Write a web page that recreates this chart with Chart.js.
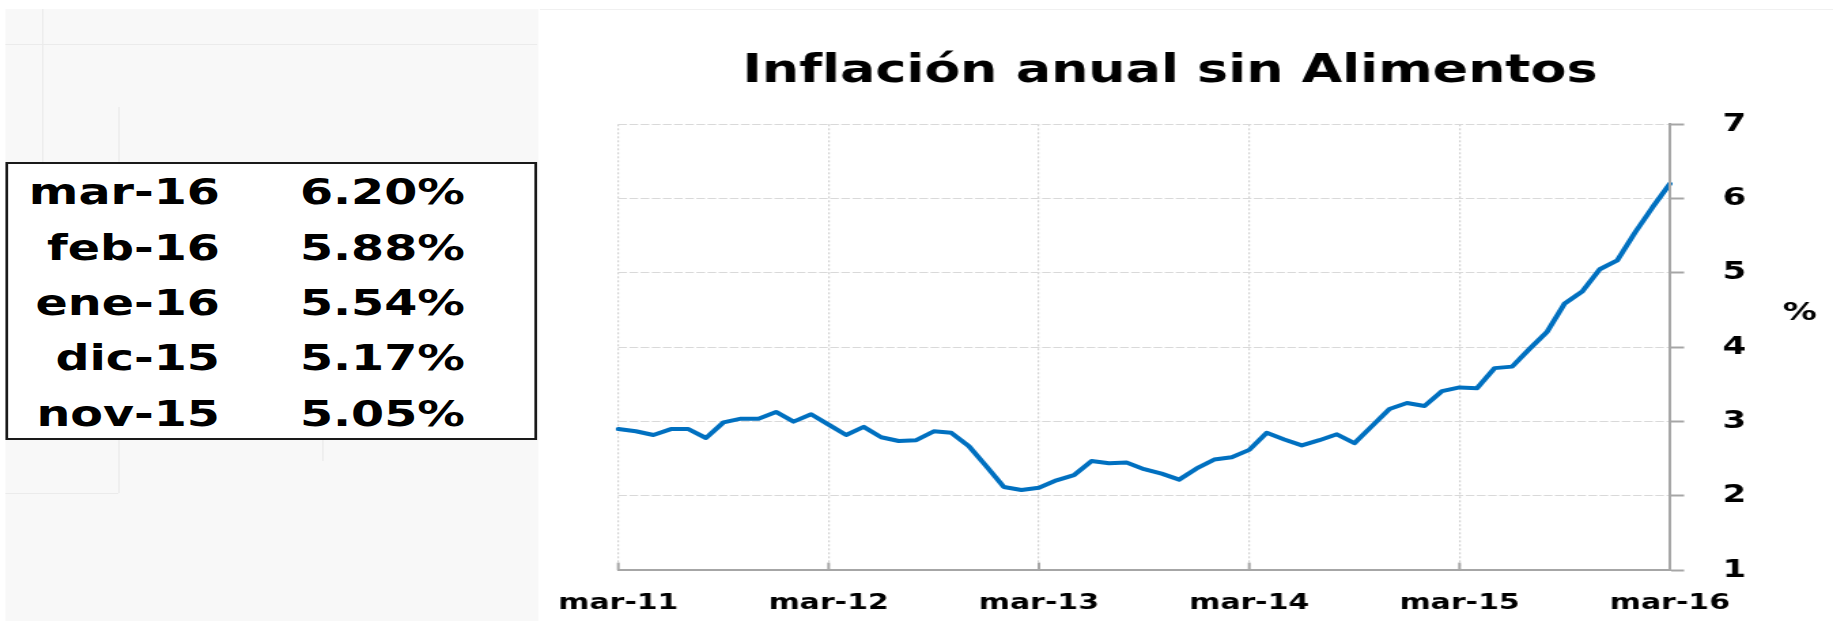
<!DOCTYPE html>
<html lang="es">
<head>
<meta charset="utf-8">
<title>Inflación anual sin Alimentos</title>
<script src="https://cdn.jsdelivr.net/npm/chart.js@4.4.1/dist/chart.umd.min.js"></script>
<style>
  html, body { margin: 0; padding: 0; background: #fff; overflow: hidden; }
  /* the original picture is stretched sideways, so the whole stage is too */
  #stage { position: absolute; left: 0; top: 0; width: 1348px; height: 621px;
           transform: scaleX(1.3598); transform-origin: 0 0;
           font-family: "DejaVu Sans", sans-serif; }
  #panel { position: absolute; left: 4.4px; top: 9px; width: 391.2px; height: 612px; background: #f8f8f8; }
  .faint { position: absolute; background: #ebebeb; }
  #topline { position: absolute; left: 397px; top: 9px; width: 951px; height: 1px; background: #f0f0f0; }
  #box { position: absolute; left: 4.4px; top: 162px; width: 390.5px; height: 278px; box-sizing: border-box;
         border: 2px solid #1a1a1a; background: #fff; padding-top: 1.3px; }
  .row { display: grid; grid-template-columns: 155.4px 180.2px; height: 55.4px; line-height: 55.4px;
         font-weight: bold; font-size: 35px; color: #000; }
  .row span { text-align: right; white-space: nowrap; }
  canvas { position: absolute; left: 0; top: 0; }
</style>
</head>
<body>
<div id="stage">
  <div id="panel"></div>
  <div class="faint" style="left:30.6px;top:9px;width:1px;height:153px"></div>
  <div class="faint" style="left:4.4px;top:44px;width:391px;height:1px"></div>
  <div class="faint" style="left:87.4px;top:107px;width:1px;height:386px"></div>
  <div class="faint" style="left:4.4px;top:493px;width:83px;height:1px"></div>
  <div class="faint" style="left:236.5px;top:440px;width:1px;height:21px"></div>
  <div id="topline"></div>
  <div id="box"></div>
  <canvas id="chart" width="1348" height="621"></canvas>
</div>
<script>
// monthly categories, mar-11 .. mar-16
const months = [
  'mar-11','abr-11','may-11','jun-11','jul-11','ago-11','sep-11','oct-11','nov-11','dic-11','ene-12','feb-12',
  'mar-12','abr-12','may-12','jun-12','jul-12','ago-12','sep-12','oct-12','nov-12','dic-12','ene-13','feb-13',
  'mar-13','abr-13','may-13','jun-13','jul-13','ago-13','sep-13','oct-13','nov-13','dic-13','ene-14','feb-14',
  'mar-14','abr-14','may-14','jun-14','jul-14','ago-14','sep-14','oct-14','nov-14','dic-14','ene-15','feb-15',
  'mar-15','abr-15','may-15','jun-15','jul-15','ago-15','sep-15','oct-15','nov-15','dic-15','ene-16','feb-16',
  'mar-16'
];
// annual inflation excluding food, %
const inflacion = [
  2.90, 2.87, 2.82, 2.90, 2.90, 2.78, 2.99, 3.04, 3.04, 3.13, 3.00, 3.10,
  2.96, 2.82, 2.93, 2.79, 2.74, 2.75, 2.87, 2.85, 2.67, 2.40, 2.12, 2.08,
  2.11, 2.21, 2.28, 2.47, 2.44, 2.45, 2.36, 2.30, 2.22, 2.37, 2.49, 2.52,
  2.62, 2.85, 2.76, 2.68, 2.75, 2.83, 2.71, 2.94, 3.17, 3.25, 3.21, 3.41,
  3.46, 3.45, 3.72, 3.74, 3.98, 4.21, 4.59, 4.75, 5.05, 5.17, 5.54, 5.88,
  6.20
];
const yearTicks = ['mar-11', 'mar-12', 'mar-13', 'mar-14', 'mar-15', 'mar-16'];
const yMin = 1, yMax = 7, yStep = 1;

const tableMonths = ['mar-16', 'feb-16', 'ene-16', 'dic-15', 'nov-15'];
const tableValues = ['6.20%', '5.88%', '5.54%', '5.17%', '5.05%'];

const TITLE = 'Inflación anual sin Alimentos';
const UNIT = '%';
const BLUE = '#0070c0';
const AXIS = '#a6a6a6';
const FONT = '"DejaVu Sans", sans-serif';

// summary box
const box = document.getElementById('box');
tableMonths.forEach((m, i) => {
  const row = document.createElement('div');
  row.className = 'row';
  row.innerHTML = `<span>${m}</span><span>${tableValues[i]}</span>`;
  box.appendChild(row);
});

const isYear = i => yearTicks.includes(months[i]);

// title, unit label and the small inward ticks on the time axis
const extras = {
  id: 'extras',
  afterDraw(chart) {
    const { ctx, scales: { x, y } } = chart;
    ctx.save();
    ctx.strokeStyle = AXIS;
    ctx.lineWidth = 2;
    months.forEach((m, i) => {
      if (!isYear(i)) return;
      const px = x.getPixelForValue(i);
      ctx.beginPath();
      ctx.moveTo(px, x.top);
      ctx.lineTo(px, x.top - 7.7);
      ctx.stroke();
    });
    ctx.fillStyle = '#000';
    ctx.textAlign = 'center';
    ctx.textBaseline = 'alphabetic';
    ctx.font = `bold 38.5px ${FONT}`;
    ctx.fillText(TITLE, 860.4, 81.7);
    ctx.font = `bold 25px ${FONT}`;
    ctx.fillText(UNIT, 1323.4, y.getPixelForValue(4.5) + 9.5);
    ctx.restore();
  }
};

new Chart(document.getElementById('chart'), {
  type: 'line',
  data: {
    labels: months,
    datasets: [{
      label: TITLE,
      data: inflacion,
      borderColor: BLUE,
      backgroundColor: BLUE,
      borderWidth: 4,
      pointRadius: 0,
      tension: 0,
      fill: false,
      borderJoinStyle: 'round',
      borderCapStyle: 'round'
    }]
  },
  options: {
    responsive: false,
    animation: false,
    devicePixelRatio: 1,
    layout: { padding: { left: 454.7, top: 124.3, right: 0, bottom: 0 } },
    plugins: {
      legend: { display: false },
      tooltip: { enabled: false },
      title: { display: false }
    },
    scales: {
      x: {
        afterFit: s => { s.height = 50.7; },
        grid: {
          color: ctx => (isYear(ctx.index) && ctx.index !== months.length - 1) ? '#d2d2d2' : 'rgba(0,0,0,0)',
          lineWidth: 1.2,
          drawTicks: false
        },
        border: { color: AXIS, width: 2, dash: [2, 2], z: 1 },
        ticks: {
          autoSkip: false, maxRotation: 0, minRotation: 0, padding: 19.5,
          color: '#000', font: { family: FONT, size: 22, weight: 'bold' },
          callback: (v, i) => isYear(i) ? months[i] : ''
        }
      },
      y: {
        position: 'right',
        min: yMin, max: yMax,
        afterFit: s => { s.width = 120; },
        grid: {
          color: ctx => ctx.tick && ctx.tick.value === yMin ? 'rgba(0,0,0,0)' : '#d9d9d9',
          lineWidth: 1,
          tickLength: 10.5,
          tickColor: AXIS,
          tickWidth: 2
        },
        border: { color: AXIS, width: 2, dash: [6.4, 1.8], z: 1 },
        ticks: {
          stepSize: yStep, padding: 28.3,
          color: '#000', font: { family: FONT, size: 25, weight: 'bold' }
        }
      }
    }
  },
  plugins: [extras]
});
</script>
</body>
</html>
